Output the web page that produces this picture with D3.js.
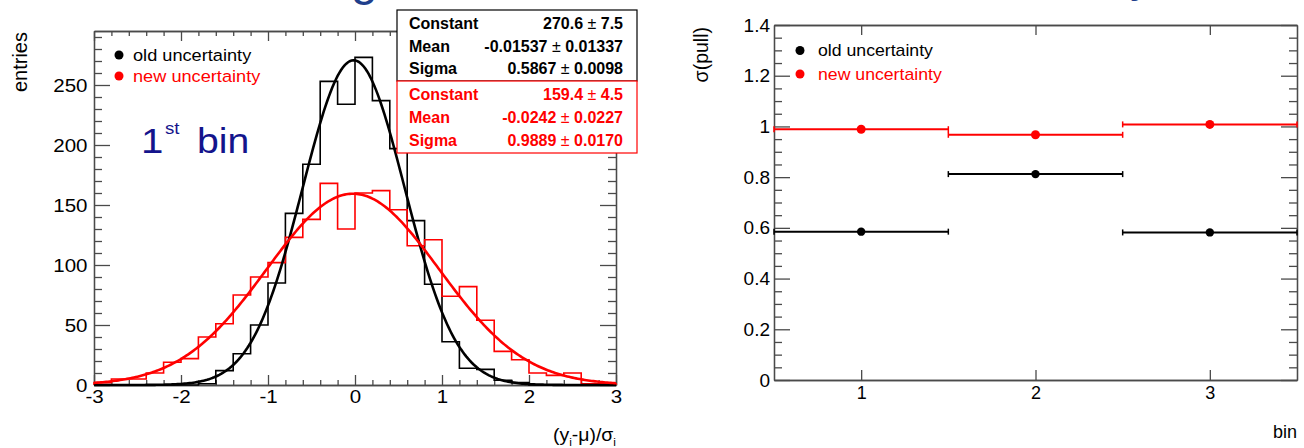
<!DOCTYPE html>
<html>
<head>
<meta charset="utf-8">
<script src="https://cdn.jsdelivr.net/npm/d3@7"></script>
<style>
body { margin: 0; background: #fff; }
text { font-family: "Liberation Sans", Arial, Helvetica, sans-serif; }
</style>
</head>
<body>
<svg id="vis" width="1304" height="448"></svg>
<script>
var vis = d3.select("#vis");

// histogram: 30 bins of width 0.2 from -3 to 3
var binLo = -3, binHi = 3, binWidth = 0.2;
var oldCounts = [0, 0, 0, 0, 0, 0, 1, 12, 26, 50, 85, 143, 184, 253, 234,
                 273, 237, 197, 137, 84, 36, 14, 13, 4, 2, 0, 0, 0, 0, 0];
var newCounts = [2, 5, 5, 10, 19, 22, 40, 51, 75, 90, 102, 123, 138, 168, 130,
                 160, 162, 146, 116, 121, 74, 82, 54, 28, 21, 10, 8, 10, 1, 1];

// gaussian fit results (stat boxes)
var fitNames = ["Constant", "Mean", "Sigma"];
var oldFit = ["270.6", "-0.01537", "0.5867"];
var oldFitErr = ["7.5", "0.01337", "0.0098"];
var newFit = ["159.4", "-0.0242", "0.9889"];
var newFitErr = ["4.5", "0.0227", "0.0170"];

// left axis ticks
var histXTicks = [-3, -2, -1, 0, 1, 2, 3];
var histYTicks = [0, 50, 100, 150, 200, 250];

// right plot: sigma of pull per bin
var bins = [1, 2, 3];
var oldPull = [0.585, 0.812, 0.582];
var oldPullErr = [0.006, 0.007, 0.006];
var newPull = [0.989, 0.967, 1.008];
var newPullErr = [0.012, 0.012, 0.012];
var pullTicks = [0, 0.2, 0.4, 0.6, 0.8, 1, 1.2, 1.4];

var legendNames = ["old uncertainty", "new uncertainty"];
var colors = ["#000000", "#ff0000"];

var axisColor = "#4a4a4a";

// scales
var xL = d3.scaleLinear().domain([-3, 3]).range([94, 616]);
var yL = d3.scaleLinear().domain([0, 295]).range([385, 31]);
var xR = d3.scaleLinear().domain([0.5, 3.5]).range([774, 1297]);
var yR = d3.scaleLinear().domain([0, 1.4]).range([380, 25]);

function styleAxis(g, fontSize, sx) {
    g.attr("font-family", null).attr("font-size", fontSize);
    g.select(".domain").attr("stroke", axisColor).attr("stroke-width", 1.3);
    g.selectAll(".tick line").attr("stroke", axisColor).attr("stroke-width", 1.3);
    g.selectAll(".tick text").attr("fill", "#000")
        .attr("transform", `scale(${sx},1)`);
}

// axis with major + minor ticks, ticks pointing inside the frame
function frameAxis(axisFn, scale, pos, major, minor, majLen, minLen, labels, pad, fontSize, sx) {
    var gMin = vis.append("g").attr("transform", pos);
    gMin.call(axisFn(scale).tickValues(minor).tickSizeInner(-minLen).tickSizeOuter(0).tickFormat(""));
    styleAxis(gMin, fontSize, sx);
    var gMaj = vis.append("g").attr("transform", pos);
    gMaj.call(axisFn(scale).tickValues(major).tickSizeInner(-majLen).tickSizeOuter(0)
        .tickPadding(pad).tickFormat(labels ? (d => String(d)) : ""));
    styleAxis(gMaj, fontSize, sx);
}

// ---------- left panel ----------
var histMinorX = d3.range(-3, 3.0001, 0.2).filter(v => Math.abs(v - Math.round(v)) > 1e-6);
var histMinorY = d3.range(0, 295, 10).filter(v => v % 50 !== 0);

frameAxis(d3.axisBottom, xL, "translate(0,385)", histXTicks, histMinorX, 10, 5, true, 5, 19, 1.08);
frameAxis(d3.axisTop, xL, "translate(0,31)", histXTicks, histMinorX, 10, 5, false, 6, 19, 1);
frameAxis(d3.axisLeft, yL, "translate(94,0)", histYTicks, histMinorY, 16, 8, true, 6, 19, 1.08);
frameAxis(d3.axisRight, yL, "translate(616,0)", histYTicks, histMinorY, 16, 8, false, 6, 19, 1);

function histPath(counts) {
    var p = `M${xL(binLo)},${yL(0)}`;
    counts.forEach((c, i) => {
        p += `V${yL(c)}H${xL(binLo + (i + 1) * binWidth)}`;
    });
    p += `V${yL(0)}`;
    return p;
}

[oldCounts, newCounts].forEach((counts, k) => {
    vis.append("path")
        .attr("d", histPath(counts))
        .attr("fill", "none")
        .attr("stroke", colors[k])
        .attr("stroke-width", 1.6);
});

// fitted gaussians drawn from the stat box parameters
var curveX = d3.range(binLo, binHi + 0.0001, 0.02);
var fitLine = d3.line().x(d => xL(d[0])).y(d => yL(d[1]));
[oldFit, newFit].forEach((f, k) => {
    var c = +f[0], m = +f[1], s = +f[2];
    var pts = curveX.map(x => [x, c * Math.exp(-0.5 * Math.pow((x - m) / s, 2))]);
    vis.append("path")
        .attr("d", fitLine(pts))
        .attr("fill", "none")
        .attr("stroke", colors[k])
        .attr("stroke-width", 2.6);
});

// stat boxes
function statBox(y0, h, vals, errs, color, baselines) {
    vis.append("rect")
        .attr("x", 397).attr("y", y0).attr("width", 240).attr("height", h)
        .attr("fill", "#fff").attr("stroke", color).attr("stroke-width", 1.2);
    fitNames.forEach((n, i) => {
        vis.append("text").attr("x", 409).attr("y", baselines[i])
            .attr("font-size", 16).attr("font-weight", "bold").attr("fill", color)
            .text(n);
        var t = vis.append("text").attr("x", 623).attr("y", baselines[i])
            .attr("text-anchor", "end").attr("font-size", 16).attr("fill", color);
        t.append("tspan").attr("font-weight", "bold").text(vals[i]);
        t.append("tspan").text(" \u00b1 ");
        t.append("tspan").attr("font-weight", "bold").text(errs[i]);
    });
}
statBox(10, 71, oldFit, oldFitErr, colors[0], [29, 52, 73.5]);
statBox(81, 72, newFit, newFitErr, colors[1], [100, 123, 145.5]);

// legend
function legend(cx, tx, ys, sx) {
    legendNames.forEach((n, i) => {
        vis.append("circle").attr("cx", cx).attr("cy", ys[i] - 5.5).attr("r", 4.5)
            .attr("fill", colors[i]);
        vis.append("text")
            .attr("transform", `translate(${tx},${ys[i]}) scale(${sx},1)`)
            .attr("font-size", 17).attr("fill", colors[i])
            .text(n);
    });
}
legend(119, 133, [60.5, 81.5], 1.07);

// "1st bin"
var navy = "#14148c";
vis.append("text").attr("transform", "translate(141,153) scale(1.15,1)")
    .attr("font-size", 35).attr("fill", navy).text("1");
vis.append("text").attr("transform", "translate(165,134) scale(1.1,1)")
    .attr("font-size", 17).attr("fill", navy).text("st");
vis.append("text").attr("transform", "translate(197,153) scale(1.12,1)")
    .attr("font-size", 35).attr("fill", navy).text("bin");

// axis titles
vis.append("text").attr("transform", "translate(27,32) rotate(-90)")
    .attr("text-anchor", "end").attr("font-size", 20).text("entries");

var xt = vis.append("text").attr("transform", "translate(616,441) scale(1.08,1)")
    .attr("text-anchor", "end").attr("font-size", 18);
xt.append("tspan").text("(y");
xt.append("tspan").attr("font-size", 11).attr("dy", 5).text("i");
xt.append("tspan").attr("dy", -5).text("-\u03bc)/\u03c3");
xt.append("tspan").attr("font-size", 11).attr("dy", 5).text("i");

// ---------- right panel ----------
var pullMinor = d3.range(0, 1.4001, 0.05).filter(v => Math.abs(v * 5 - Math.round(v * 5)) > 1e-6);

frameAxis(d3.axisBottom, xR, "translate(0,380)", bins, [], 10, 5, true, 6, 18, 1);
frameAxis(d3.axisTop, xR, "translate(0,25)", bins, [], 10, 5, false, 6, 18, 1);
frameAxis(d3.axisLeft, yR, "translate(774,0)", pullTicks, pullMinor, 16, 8, true, 4, 19, 1);
frameAxis(d3.axisRight, yR, "translate(1297,0)", pullTicks, pullMinor, 16, 8, false, 6, 18, 1);

function pullSeries(vals, errs, color, r) {
    var g = vis.append("g").attr("stroke", color).attr("fill", color);
    bins.forEach((b, i) => {
        g.append("line")
            .attr("x1", xR(b - 0.5)).attr("x2", xR(b + 0.5))
            .attr("y1", yR(vals[i])).attr("y2", yR(vals[i]))
            .attr("stroke-width", 2);
        [b - 0.5, b + 0.5].forEach(e => {
            g.append("line")
                .attr("x1", xR(e)).attr("x2", xR(e))
                .attr("y1", yR(vals[i]) - 3).attr("y2", yR(vals[i]) + 3)
                .attr("stroke-width", 1.5);
        });
        g.append("line")
            .attr("x1", xR(b)).attr("x2", xR(b))
            .attr("y1", yR(vals[i] - errs[i])).attr("y2", yR(vals[i] + errs[i]))
            .attr("stroke-width", 3);
        g.append("circle").attr("cx", xR(b)).attr("cy", yR(vals[i])).attr("r", r)
            .attr("stroke", "none");
    });
}
pullSeries(oldPull, oldPullErr, colors[0], 4.2);
pullSeries(newPull, newPullErr, colors[1], 4.5);

legend(800, 818, [56, 79.5], 1.04);

vis.append("text").attr("transform", "translate(708,27) rotate(-90)")
    .attr("text-anchor", "end").attr("font-size", 19.5).text("\u03c3(pull)");
vis.append("text").attr("transform", "translate(1297,438)")
    .attr("text-anchor", "end").attr("font-size", 18).text("bin");

// clipped slide-title fragments at the very top
var titleBlue = "#1f3f8c";
vis.append("text").attr("x", 351).attr("y", -5).attr("font-size", 48)
    .attr("fill", titleBlue).text("g");
vis.append("text").attr("x", 1130).attr("y", -9).attr("font-size", 48)
    .attr("fill", titleBlue).text("y");
</script>
</body>
</html>
